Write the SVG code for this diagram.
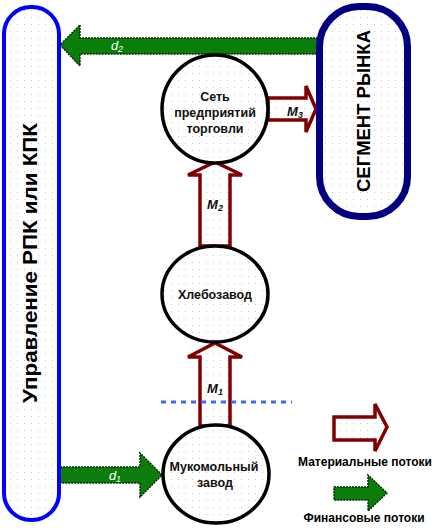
<svg xmlns="http://www.w3.org/2000/svg" width="442" height="530" viewBox="0 0 442 530">
<defs>
<pattern id="dots" width="7" height="7" patternUnits="userSpaceOnUse">
<rect width="7" height="7" fill="#ffffff"/>
<rect x="3" y="3" width="1" height="1" fill="#c8c8c8"/>
</pattern>
<style>
.node{fill:url(#dots);stroke:#000;stroke-width:3.5}
.lbl{font-family:"Liberation Sans",Arial,sans-serif;font-weight:bold;font-size:12.5px;fill:#111;text-anchor:middle}
.big{font-family:"Liberation Sans",Arial,sans-serif;font-weight:bold;fill:#000;text-anchor:middle}
.mat{fill:url(#dots);stroke:#800000;stroke-width:3.5;stroke-linejoin:miter}
.fin{fill:#0b7d0b;stroke:#002a00;stroke-width:1.5;stroke-dasharray:2 1}
.ml{font-family:"Liberation Sans",Arial,sans-serif;font-style:italic;font-weight:bold;font-size:13px;fill:#111;text-anchor:middle}
.dl{font-family:"Liberation Sans",Arial,sans-serif;font-style:italic;font-size:13px;fill:#fff;text-anchor:middle}
.leg{font-family:"Liberation Sans",Arial,sans-serif;font-weight:bold;font-size:12px;fill:#000;text-anchor:middle}
</style>
</defs>
<rect width="442" height="530" fill="#fff"/>

<g id="connectors">
<!-- d2 -->
<path class="fin" d="M318,38 L80,38 L80,25 L60,45 L80,66 L80,54 L318,54 Z"/>
<text class="dl" x="117" y="50">d<tspan font-size="9" dy="2">2</tspan></text>
<!-- d1 -->
<path class="fin" d="M60,467 L140,467 L140,453 L162,475 L140,497 L140,483 L60,483 Z"/>
<text class="dl" x="115" y="480">d<tspan font-size="9" dy="2">1</tspan></text>
<!-- M3 -->
<path class="mat" d="M268,98 L306,98 L306,86 L316,109 L306,132 L306,120 L268,120 Z"/>
<text class="ml" x="295" y="116">M<tspan font-size="9" dy="2">3</tspan></text>
<!-- M2 -->
<path class="mat" d="M200,246 L200,175 L188,175 L215,162 L242,175 L230,175 L230,246 Z"/>
<text class="ml" x="215" y="209">M<tspan font-size="9" dy="2">2</tspan></text>
<!-- M1 -->
<path class="mat" d="M200,426 L200,357 L188,357 L215,343 L242,357 L230,357 L230,426 Z"/>
<text class="ml" x="215" y="393">M<tspan font-size="9" dy="2">1</tspan></text>
<line x1="161" y1="402" x2="292" y2="402" stroke="#3a6cf0" stroke-width="3" stroke-dasharray="5 5"/>
</g>

<g id="upr">
<rect x="4" y="7" width="55" height="513" rx="27" ry="27" fill="url(#dots)" stroke="#0000ff" stroke-width="4"/>
<text class="big" transform="translate(37,263) rotate(-90)" font-size="20" textLength="280" lengthAdjust="spacingAndGlyphs">Управление РПК или КПК</text>
</g>

<g id="segment">
<rect x="319.5" y="6.5" width="88" height="210" rx="40" ry="40" fill="url(#dots)" stroke="#000080" stroke-width="7"/>
<text class="big" transform="translate(370,111) rotate(-90)" font-size="18" textLength="162" lengthAdjust="spacingAndGlyphs">СЕГМЕНТ РЫНКА</text>
</g>

<g id="set">
<ellipse class="node" cx="215" cy="109" rx="53" ry="54"/>
<text class="lbl" x="215" y="101">Сеть</text>
<text class="lbl" x="215" y="117">предприятий</text>
<text class="lbl" x="215" y="133">торговли</text>
</g>

<g id="hleb">
<ellipse class="node" cx="215" cy="294" rx="53" ry="48"/>
<text class="lbl" x="215" y="299">Хлебозавод</text>
</g>

<g id="muk">
<ellipse class="node" cx="216" cy="474" rx="53" ry="49"/>
<text class="lbl" x="214" y="471">Мукомольный</text>
<text class="lbl" x="215" y="487">завод</text>
</g>

<g id="legend">
<path class="mat" d="M334,417 L375,417 L375,404 L387,427 L375,451 L375,440 L334,440 Z"/>
<text class="leg" x="365" y="466">Материальные потоки</text>
<path class="fin" d="M334,487 L368,487 L368,475 L387,493 L368,511 L368,500 L334,500 Z"/>
<text class="leg" x="364" y="522">Финансовые потоки</text>
</g>
</svg>
